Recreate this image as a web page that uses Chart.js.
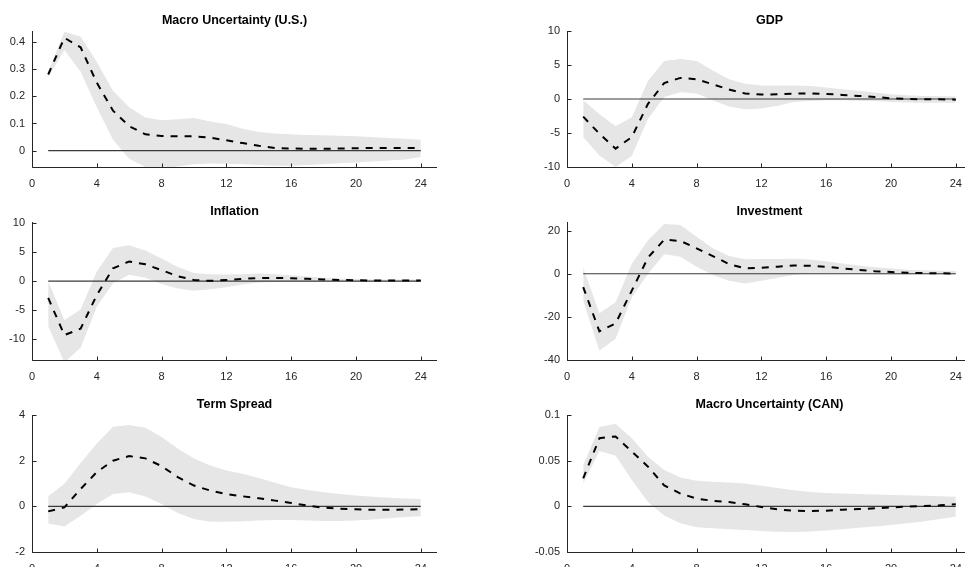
<!DOCTYPE html>
<html>
<head>
<meta charset="utf-8">
<script src="https://cdn.jsdelivr.net/npm/chart.js@4/dist/chart.umd.min.js"></script>
<style>
  html, body { margin: 0; padding: 0; background: #fff; overflow: hidden; }
  #wrap { position: relative; width: 965px; height: 567px; overflow: hidden; background: #fff; }
  #wrap canvas { position: absolute; }
</style>
</head>
<body>
<div id="wrap">
  <canvas id="p1" style="left:0px;top:0px;width:437px;height:191px" width="437" height="191"></canvas>
  <canvas id="p2" style="left:535px;top:0px;width:437px;height:191px" width="437" height="191"></canvas>
  <canvas id="p3" style="left:0px;top:191px;width:437px;height:193px" width="437" height="193"></canvas>
  <canvas id="p4" style="left:535px;top:191px;width:437px;height:193px" width="437" height="193"></canvas>
  <canvas id="p5" style="left:0px;top:384px;width:437px;height:192px" width="437" height="192"></canvas>
  <canvas id="p6" style="left:535px;top:384px;width:437px;height:192px" width="437" height="192"></canvas>
</div>
<script>
// Impulse responses, horizons 1..24: median with 68% band
const horizons = [1,2,3,4,5,6,7,8,9,10,11,12,13,14,15,16,17,18,19,20,21,22,23,24];
const xTickLabels = ['0','4','8','12','16','20','24'];

const titles = ['Macro Uncertainty (U.S.)', 'GDP', 'Inflation', 'Investment', 'Term Spread', 'Macro Uncertainty (CAN)'];

// Macro uncertainty (U.S.)
const muUsMedian = [0.28,0.415,0.38,0.25,0.147,0.09,0.06,0.054,0.053,0.053,0.048,0.038,0.028,0.018,0.01,0.008,0.007,0.007,0.008,0.009,0.01,0.01,0.01,0.01];
const muUsUpper  = [0.29,0.437,0.42,0.326,0.22,0.16,0.122,0.112,0.116,0.12,0.107,0.098,0.081,0.069,0.063,0.06,0.058,0.057,0.055,0.053,0.05,0.047,0.044,0.04];
const muUsLower  = [0.27,0.37,0.29,0.16,0.04,-0.03,-0.06,-0.065,-0.058,-0.05,-0.047,-0.048,-0.05,-0.053,-0.055,-0.055,-0.053,-0.05,-0.046,-0.043,-0.04,-0.036,-0.032,-0.023];
const muUsTicks  = ['0','0.1','0.2','0.3','0.4'];

// GDP
const gdpMedian = [-2.6,-5.1,-7.3,-5.6,-0.7,2.35,3.1,2.9,2.15,1.4,0.8,0.65,0.7,0.8,0.8,0.75,0.6,0.45,0.3,0.1,0.0,-0.05,-0.05,-0.1];
const gdpUpper  = [-0.2,-2.2,-4.0,-2.7,2.7,5.6,5.9,5.6,4.2,2.9,2.25,2.0,2.0,2.0,1.9,1.7,1.45,1.2,0.95,0.7,0.55,0.45,0.4,0.35];
const gdpLower  = [-5.6,-8.3,-10,-8.4,-2.9,0.3,1.0,0.8,-0.2,-1.1,-1.5,-1.4,-1.0,-0.45,-0.3,-0.2,-0.2,-0.25,-0.3,-0.45,-0.5,-0.55,-0.55,-0.55];
const gdpTicks  = ['-10','-5','0','5','10'];

// Inflation
const inflMedian = [-2.9,-9.3,-8.2,-2.4,2.2,3.4,2.9,1.9,0.85,0.2,0.05,0.2,0.4,0.55,0.55,0.5,0.4,0.3,0.2,0.15,0.1,0.1,0.1,0.1];
const inflUpper  = [0,-6.7,-4.9,1.65,5.7,6.2,5.3,3.9,2.45,1.4,1.2,1.15,1.2,1.3,1.2,1.0,0.8,0.6,0.45,0.35,0.3,0.3,0.3,0.3];
const inflLower  = [-7.8,-14,-11.5,-4.4,-0.35,1.1,0.6,-0.5,-1.25,-1.65,-1.4,-1.05,-0.6,-0.25,-0.15,-0.1,-0.1,-0.1,-0.1,-0.1,-0.1,-0.1,-0.1,-0.1];
const inflTicks  = ['-10','-5','0','5','10'];

// Investment
const invMedian = [-6.2,-26.7,-23,-7.8,7.5,15.8,15.2,11.8,8.2,4.5,2.5,2.8,3.3,3.8,3.7,3.2,2.5,1.8,1.2,0.8,0.5,0.3,0.2,0.1];
const invUpper  = [2.8,-18.3,-13.2,4.6,15.5,23.1,22.6,17.2,11.8,8.2,6.7,6.8,6.8,6.9,6.6,5.8,4.8,3.8,3.0,2.4,1.9,1.6,1.4,1.3];
const invLower  = [-12.4,-35.7,-30.2,-10.9,0,9.1,7.9,3.3,-0.6,-3.3,-4.5,-3.3,-1.8,-0.5,0.1,0.2,0.1,0,-0.2,-0.3,-0.4,-0.4,-0.4,-0.4];
const invTicks  = ['-40','-20','0','20'];

// Term spread
const tsMedian = [-0.22,-0.05,0.76,1.5,2.0,2.2,2.1,1.76,1.28,0.91,0.69,0.54,0.44,0.35,0.25,0.15,0.03,-0.06,-0.1,-0.13,-0.15,-0.15,-0.14,-0.13];
const tsUpper  = [0.44,0.99,1.9,2.75,3.49,3.56,3.44,3.04,2.53,2.09,1.79,1.57,1.43,1.24,1.03,0.84,0.72,0.62,0.54,0.47,0.42,0.38,0.34,0.32];
const tsLower  = [-0.75,-0.88,-0.41,0.1,0.54,0.62,0.43,0.1,-0.29,-0.56,-0.68,-0.68,-0.65,-0.62,-0.6,-0.6,-0.62,-0.64,-0.64,-0.62,-0.58,-0.52,-0.47,-0.43];
const tsTicks  = ['-2','0','2','4'];

// Macro uncertainty (CAN)
const muCanMedian = [0.0305,0.0746,0.0765,0.06,0.0434,0.023,0.014,0.0085,0.006,0.0048,0.0022,-0.0007,-0.0033,-0.0048,-0.0051,-0.0048,-0.0037,-0.003,-0.0022,-0.0011,-0.0004,0.0004,0.0011,0.0022];
const muCanUpper  = [0.045,0.0868,0.0904,0.0746,0.0544,0.0397,0.0316,0.028,0.0268,0.026,0.025,0.0224,0.0202,0.0176,0.0158,0.0147,0.014,0.0135,0.013,0.0125,0.012,0.0115,0.011,0.0105];
const muCanLower  = [0.025,0.0607,0.0555,0.0287,0.0048,-0.0099,-0.0184,-0.0228,-0.0239,-0.025,-0.026,-0.027,-0.0279,-0.028,-0.0276,-0.0265,-0.025,-0.0235,-0.022,-0.0205,-0.0185,-0.0165,-0.014,-0.0115];
const muCanTicks  = ['-0.05','0','0.05','0.1'];

const FONT = '"Liberation Sans", Arial, Helvetica, sans-serif';
const AXIS_COLOR = '#262626';

// Axis lines and inward-pointing tick marks, drawn on top of the data
const axesOnTop = {
  id: 'axesOnTop',
  afterDatasetsDraw(chart) {
    const ctx = chart.ctx;
    const a = chart.chartArea;
    const xs = chart.scales.x, ys = chart.scales.y;
    const L = Math.round(a.left) + 0.5, B = Math.round(a.bottom) + 0.5;
    ctx.save();
    ctx.strokeStyle = AXIS_COLOR;
    ctx.lineWidth = 1;
    ctx.beginPath();
    ctx.moveTo(L, Math.round(a.top));
    ctx.lineTo(L, B);
    ctx.lineTo(a.right, B);
    ctx.stroke();
    ctx.beginPath();
    xs.ticks.forEach(t => {
      const px = Math.round(xs.getPixelForValue(t.value)) + 0.5;
      ctx.moveTo(px, B);
      ctx.lineTo(px, B - 4);
    });
    ys.ticks.forEach(t => {
      const py = Math.round(ys.getPixelForValue(t.value)) + 0.5;
      ctx.moveTo(L, py);
      ctx.lineTo(L + 4, py);
    });
    ctx.stroke();
    ctx.restore();
  }
};

function points(values) {
  return horizons.map((h, i) => ({ x: h, y: values[i] }));
}

function makePanel(id, title, median, upper, lower, yMin, yMax, yTicks) {
  new Chart(document.getElementById(id), {
    type: 'line',
    data: {
      datasets: [
        { data: points(median), borderColor: '#000', borderWidth: 2, borderDash: [7, 7],
          pointRadius: 0, fill: false, tension: 0, order: 0 },
        { data: [{ x: horizons[0], y: 0 }, { x: horizons[horizons.length - 1], y: 0 }],
          borderColor: '#3a3a3a', borderWidth: 1.2, pointRadius: 0, fill: false, order: 1 },
        { data: points(upper), borderWidth: 0, borderColor: 'rgba(0,0,0,0)', pointRadius: 0,
          backgroundColor: '#e6e6e6', fill: '+1', tension: 0, order: 2 },
        { data: points(lower), borderWidth: 0, borderColor: 'rgba(0,0,0,0)', pointRadius: 0,
          fill: false, tension: 0, order: 3 }
      ]
    },
    options: {
      responsive: false,
      animation: false,
      events: [],
      layout: { padding: 0 },
      plugins: {
        legend: { display: false },
        tooltip: { enabled: false },
        title: {
          display: true, text: title, fullSize: false, color: '#000',
          font: { family: FONT, size: 12.5, weight: 'bold', lineHeight: 1.2 },
          padding: { top: 13.2, bottom: 2.8 }
        }
      },
      scales: {
        x: {
          type: 'linear', min: 0, max: 25,
          afterBuildTicks: s => { s.ticks = xTickLabels.map(v => ({ value: Number(v) })); },
          afterFit: s => { s.height = 24; },
          grid: { display: false, drawTicks: false, tickLength: 0 },
          border: { display: false },
          ticks: {
            color: AXIS_COLOR, padding: 10, maxRotation: 0, autoSkip: false,
            font: { family: FONT, size: 11 },
            callback: v => String(v)
          }
        },
        y: {
          type: 'linear', min: yMin, max: yMax,
          afterBuildTicks: s => { s.ticks = yTicks.map(v => ({ value: Number(v) })); },
          afterFit: s => { s.width = 32; },
          grid: { display: false, drawTicks: false, tickLength: 0 },
          border: { display: false },
          ticks: {
            color: AXIS_COLOR, padding: 7, autoSkip: false,
            font: { family: FONT, size: 11 },
            callback: v => yTicks.find(t => Number(t) === v) ?? String(v)
          }
        }
      }
    },
    plugins: [axesOnTop]
  });
}

makePanel('p1', titles[0], muUsMedian, muUsUpper, muUsLower, -0.06, 0.44, muUsTicks);
makePanel('p2', titles[1], gdpMedian, gdpUpper, gdpLower, -10, 10, gdpTicks);
makePanel('p3', titles[2], inflMedian, inflUpper, inflLower, -13.6, 10.2, inflTicks);
makePanel('p4', titles[3], invMedian, invUpper, invLower, -40, 24, invTicks);
makePanel('p5', titles[4], tsMedian, tsUpper, tsLower, -2, 4, tsTicks);
makePanel('p6', titles[5], muCanMedian, muCanUpper, muCanLower, -0.05, 0.1, muCanTicks);
</script>
</body>
</html>
